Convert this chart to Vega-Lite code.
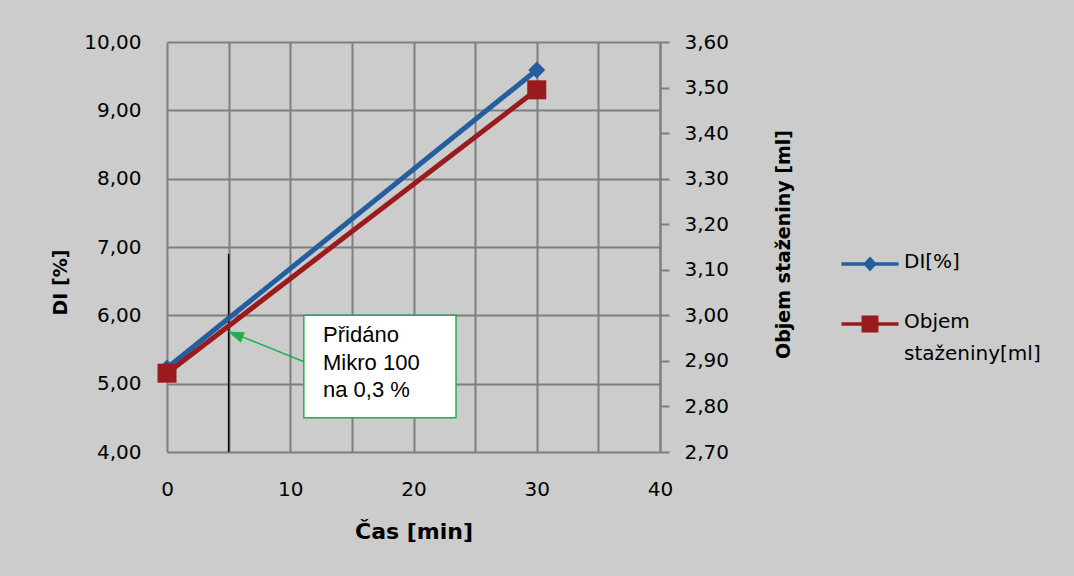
{
  "$schema": "https://vega.github.io/schema/vega-lite/v6.json",
  "width": 493,
  "height": 410,
  "autosize": "none",
  "padding": {"left": 167, "top": 42, "right": 414, "bottom": 124},
  "background": "#cccccc",
  "config": {
    "view": {"stroke": null},
    "font": "DejaVu Sans",
    "locale": {"number": {"decimal": ",", "thousands": "\u00a0", "grouping": [3], "currency": ["", ""]}},
    "axis": {"gridColor": "#7f7f7f", "gridWidth": 2, "gridOpacity": 1, "labelColor": "#000000", "titleColor": "#000000", "labelFont": "DejaVu Sans", "titleFont": "DejaVu Sans", "labelFontSize": 20, "titleFontWeight": "bold"}
  },
  "datasets": {
    "di": [
      {"cas": 0, "value": 5.23, "series": "DI[%]"},
      {"cas": 30, "value": 9.59, "series": "DI[%]"}
    ],
    "objem": [
      {"cas": 0, "value": 2.873, "series": "Objem staženiny[ml]"},
      {"cas": 30, "value": 3.495, "series": "Objem staženiny[ml]"}
    ],
    "marker": [{"cas": 5, "y0": 4.0, "y1": 6.9}],
    "box": [{"x0": 11.1, "x1": 23.45, "y0": 4.5, "y1": 6.0}],
    "note": [{"x": 12.66, "y": 5.71, "label": "Přidáno\nMikro 100\nna 0,3 %"}],
    "arrow": [{"x0": 11.12, "y0": 5.32, "x1": 5.92, "y1": 5.70}],
    "head": [{"x": 5.55, "y": 5.72}]
  },
  "layer": [
    {
      "layer": [
        {
          "data": {"name": "marker"},
          "mark": {"type": "rule", "color": "#000000", "strokeWidth": 1.5},
          "encoding": {
            "x": {"field": "cas", "type": "quantitative", "scale": {"domain": [0, 40], "nice": false},
              "axis": {"title": "Čas [min]", "titleFontSize": 22, "values": [0, 5, 10, 15, 20, 25, 30, 35, 40],
                "labelExpr": "datum.value % 10 == 0 ? datum.label : ''", "ticks": false, "tickSize": 0, "domain": false,
                "labelPadding": 27, "labelFlush": false, "titleY": 79, "titleBaseline": "middle", "grid": true}},
            "y": {"field": "y0", "type": "quantitative", "scale": {"domain": [4, 10], "nice": false, "zero": false},
              "axis": {"title": "DI [%]", "titleFontSize": 19, "values": [4, 5, 6, 7, 8, 9, 10], "format": ".2f",
                "ticks": false, "tickSize": 0, "domain": false, "labelPadding": 26, "titleX": -107, "titleY": 240,
                "titleAngle": -90, "titleBaseline": "middle", "titleAlign": "center"}},
            "y2": {"field": "y1"}
          }
        },
        {
          "data": {"name": "box"},
          "mark": {"type": "rect", "fill": "#ffffff", "stroke": "#1db050", "strokeWidth": 1.5},
          "encoding": {
            "x": {"field": "x0", "type": "quantitative"},
            "x2": {"field": "x1"},
            "y": {"field": "y0", "type": "quantitative"},
            "y2": {"field": "y1"}
          }
        },
        {
          "data": {"name": "note"},
          "mark": {"type": "text", "font": "Liberation Sans", "fontSize": 22, "align": "left", "baseline": "middle", "lineBreak": "\n", "lineHeight": 27.5, "color": "#000000"},
          "encoding": {
            "x": {"field": "x", "type": "quantitative"},
            "y": {"field": "y", "type": "quantitative"},
            "text": {"field": "label"}
          }
        },
        {
          "data": {"name": "arrow"},
          "mark": {"type": "rule", "color": "#1db050", "strokeWidth": 1.5},
          "encoding": {
            "x": {"field": "x0", "type": "quantitative"},
            "x2": {"field": "x1"},
            "y": {"field": "y0", "type": "quantitative"},
            "y2": {"field": "y1"}
          }
        },
        {
          "data": {"name": "head"},
          "mark": {"type": "point", "shape": "M0,-1L0.7,1L-0.7,1Z", "filled": true, "color": "#1db050", "opacity": 1, "size": 256, "angle": 292},
          "encoding": {
            "x": {"field": "x", "type": "quantitative"},
            "y": {"field": "y", "type": "quantitative"}
          }
        },
        {
          "data": {"name": "di"},
          "mark": {"type": "line", "strokeWidth": 5},
          "encoding": {
            "x": {"field": "cas", "type": "quantitative"},
            "y": {"field": "value", "type": "quantitative"},
            "color": {"field": "series", "type": "nominal",
              "scale": {"domain": ["DI[%]", "Objem staženiny[ml]"], "range": ["#245e9e", "#9a1b1d"]},
              "legend": {
                "title": null, "orient": "none", "legendX": 692, "legendY": 211, "direction": "vertical",
                "padding": 0, "symbolSize": 324, "labelOffset": 23, "rowPadding": 34,
                "labelFont": "DejaVu Sans", "labelFontSize": 20, "labelColor": "#000000", "labelLimit": 300,
                "labelBaseline": "top",
                "labelExpr": "datum.label == 'DI[%]' ? datum.label : ['Objem', 'staženiny[ml]']",
                "encode": {
                  "symbols": {"update": {
                    "shape": {"signal": "datum.value == 'DI[%]' ? 'M-3.17,0L3.17,0M0,-0.55L0.5,0L0,0.55L-0.5,0Z' : 'M-3.17,0L3.17,0M-0.75,-0.75L0.75,-0.75L0.75,0.75L-0.75,0.75Z'"},
                    "fill": {"scale": "color", "field": "value"},
                    "stroke": {"scale": "color", "field": "value"},
                    "strokeWidth": {"value": 3.5},
                    "opacity": {"value": 1},
                    "fillOpacity": {"value": 1}
                  }},
                  "labels": {"update": {"dy": {"value": -12}, "lineHeight": {"value": 32}}}
                }
              }}
          }
        },
        {
          "data": {"name": "di"},
          "mark": {"type": "point", "shape": "diamond", "filled": true, "color": "#245e9e", "opacity": 1, "size": 289},
          "encoding": {
            "x": {"field": "cas", "type": "quantitative"},
            "y": {"field": "value", "type": "quantitative"}
          }
        }
      ]
    },
    {
      "data": {"name": "objem"},
      "layer": [
        {
          "mark": {"type": "line", "strokeWidth": 5, "color": "#9a1b1d"},
          "encoding": {
            "x": {"field": "cas", "type": "quantitative"},
            "y": {"field": "value", "type": "quantitative", "scale": {"domain": [2.7, 3.6], "nice": false, "zero": false},
              "axis": {"orient": "right", "title": "Objem staženiny [ml]", "titleFontSize": 19,
                "values": [2.7, 2.8, 2.9, 3.0, 3.1, 3.2, 3.3, 3.4, 3.5, 3.6], "format": ".2f", "grid": false,
                "ticks": true, "tickSize": 9, "tickColor": "#7f7f7f", "tickWidth": 2, "domain": true,
                "domainColor": "#7f7f7f", "domainWidth": 2, "labelPadding": 15, "titleX": 123, "titleY": 202,
                "titleAngle": -90, "titleBaseline": "middle", "titleAlign": "center"}}
          }
        },
        {
          "mark": {"type": "point", "shape": "square", "filled": true, "color": "#9a1b1d", "opacity": 1, "size": 361},
          "encoding": {
            "x": {"field": "cas", "type": "quantitative"},
            "y": {"field": "value", "type": "quantitative"}
          }
        }
      ]
    }
  ],
  "resolve": {"scale": {"y": "independent"}}
}
